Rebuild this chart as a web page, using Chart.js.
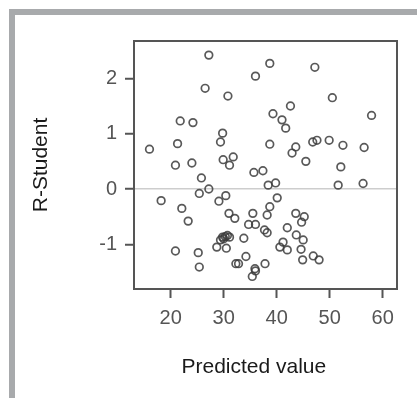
<!DOCTYPE html>
<html>
<head>
<meta charset="utf-8">
<script src="https://cdn.jsdelivr.net/npm/chart.js@4"></script>
<style>
  body { margin: 0; background: #fff; }
  #wrap { position: relative; width: 417px; height: 398px; overflow: hidden; }
  #frame {
    position: absolute; left: 9px; top: 9px; right: -10px; bottom: -10px;
    border-top: 6px solid #a8aaac; border-left: 6px solid #a8aaac;
  }
  canvas { position: absolute; left: 0; top: 0; }
</style>
</head>
<body>
<div id="wrap">
  <div id="frame"></div>
  <canvas id="residChart" width="417" height="398"></canvas>
</div>
<script>
// predicted value (x) and R-Student residual (y)
const predicted = [
  27.2, 38.7, 47.2, 36.0, 26.5, 30.8, 50.5, 42.6, 57.9, 39.3,
  41.0, 41.7, 21.8, 24.2, 29.8, 29.4, 16.0, 21.3, 38.7, 43.6,
  42.9, 46.8, 47.6, 49.9, 52.5, 56.5, 45.5, 52.1, 20.9, 24.0,
  29.9, 31.8, 31.1, 35.7, 37.4, 25.8, 27.2, 25.4, 38.4, 39.8,
  51.6, 56.3, 18.2, 22.1, 23.3, 29.1, 30.4, 40.1, 38.7, 31.0,
  32.1, 35.5, 34.7, 36.0, 38.2, 43.6, 45.2, 44.7, 42.0, 37.7,
  38.2, 43.7, 45.0, 33.8, 29.8, 30.3, 31.1, 29.4, 28.7, 30.5,
  41.2, 40.6, 42.0, 44.6, 20.9, 25.2, 25.4, 34.2, 32.3, 32.8,
  37.8, 35.9, 35.4, 36.0, 44.9, 46.9, 48.0, 30.0, 30.7
];
const rStudent = [
  2.42, 2.27, 2.20, 2.04, 1.82, 1.68, 1.65, 1.50, 1.33, 1.36,
  1.25, 1.10, 1.23, 1.20, 1.01, 0.85, 0.72, 0.82, 0.81, 0.76,
  0.65, 0.85, 0.88, 0.88, 0.79, 0.75, 0.50, 0.40, 0.43, 0.47,
  0.53, 0.58, 0.43, 0.30, 0.33, 0.20, 0.00, -0.08, 0.07, 0.11,
  0.07, 0.10, -0.21, -0.35, -0.58, -0.22, -0.12, -0.16, -0.32, -0.44,
  -0.53, -0.44, -0.64, -0.64, -0.47, -0.44, -0.50, -0.60, -0.70, -0.74,
  -0.79, -0.83, -0.92, -0.89, -0.87, -0.86, -0.87, -0.92, -1.05, -1.07,
  -0.96, -1.05, -1.10, -1.09, -1.12, -1.15, -1.41, -1.22, -1.35, -1.35,
  -1.35, -1.44, -1.58, -1.48, -1.28, -1.21, -1.28, -0.90, -0.84
];
const xTicks = [20, 30, 40, 50, 60];
const yTicks = [-1, 0, 1, 2];

const tickFont = { family: "'Liberation Sans', Arial, sans-serif", size: 20 };
const titleFont = { family: "'Liberation Sans', Arial, sans-serif", size: 21 };
const axisColor = "#555";

// frame-only axes for the top and right sides of the box
const frameAxis = (axis, position) => ({
  type: "linear", axis, position,
  ticks: { display: false }, grid: { display: false },
  border: { display: true, color: axisColor, width: 2 },
  afterFit: (s) => { if (axis === "x") s.height = 0; else s.width = 0; },
});

const ctx = document.getElementById("residChart").getContext("2d");
new Chart(ctx, {
  type: "scatter",
  data: {
    datasets: [
      {
        label: "R-Student",
        data: predicted.map((x, i) => ({ x, y: rStudent[i] })),
        pointStyle: "circle",
        pointRadius: 3.8,
        borderWidth: 1.7,
        borderColor: "rgba(60, 60, 60, 0.85)",
        backgroundColor: "rgba(0, 0, 0, 0)",
      },
    ],
  },
  options: {
    responsive: false,
    animation: false,
    layout: { padding: { top: 41, right: 20, left: 0, bottom: 0 } },
    plugins: { legend: { display: false }, tooltip: { enabled: false } },
    scales: {
      x: {
        type: "linear",
        position: "bottom",
        min: 13.08,
        max: 62.7,
        afterBuildTicks: (s) => { s.ticks = xTicks.map((v) => ({ value: v })); },
        afterFit: (s) => { s.height = 109; },
        ticks: { color: axisColor, font: tickFont, padding: 8 },
        grid: {
          drawOnChartArea: false, tickLength: 9,
          tickColor: axisColor, tickWidth: 2,
        },
        border: { display: true, color: axisColor, width: 2 },
        title: {
          display: true,
          text: "Predicted value    ",
          color: "#1a1a1a",
          font: titleFont,
          padding: { top: 0, bottom: 18 },
        },
      },
      y: {
        type: "linear",
        position: "left",
        min: -1.807,
        max: 2.675,
        afterBuildTicks: (s) => { s.ticks = yTicks.map((v) => ({ value: v })); },
        afterFit: (s) => { s.width = 134; },
        ticks: { color: axisColor, font: tickFont, padding: 8 },
        grid: {
          color: (c) => (c.tick && c.tick.value === 0 ? "#cdcdcd" : "rgba(0,0,0,0)"),
          lineWidth: 1.5,
          tickLength: 9, tickColor: axisColor, tickWidth: 2,
        },
        border: { display: true, color: axisColor, width: 2 },
        title: {
          display: true,
          text: "R-Student",
          color: "#1a1a1a",
          font: titleFont,
          padding: { top: 29, bottom: 0 },
        },
      },
      xTop: frameAxis("x", "top"),
      yRight: frameAxis("y", "right"),
    },
  },
});
</script>
</body>
</html>
